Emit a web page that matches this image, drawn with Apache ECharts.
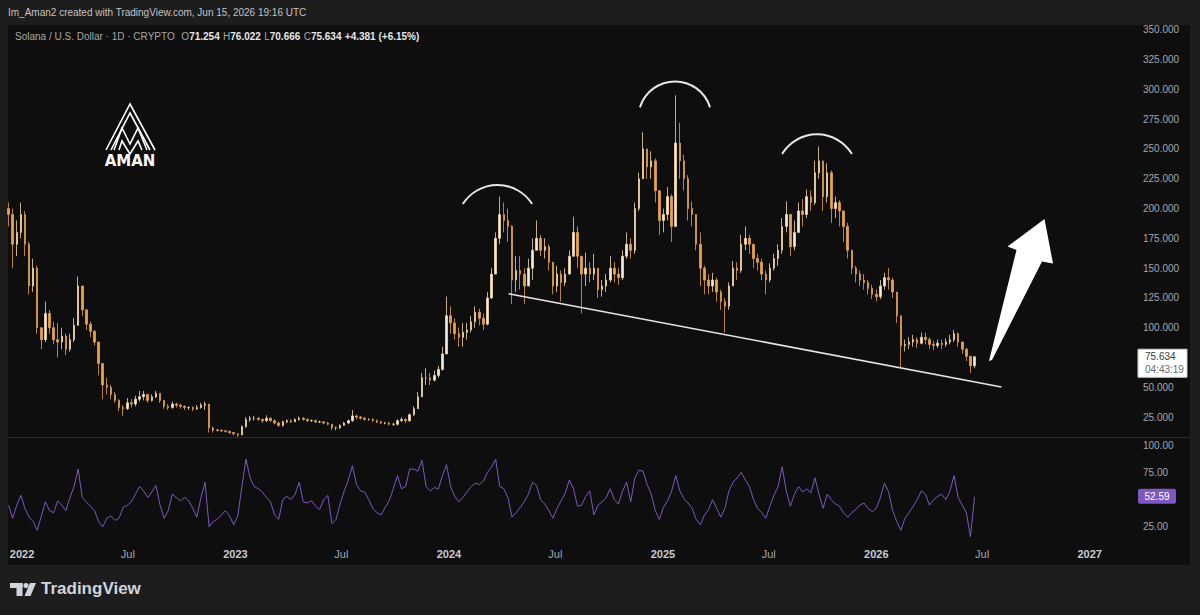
<!DOCTYPE html>
<html>
<head>
<meta charset="utf-8">
<title>Solana / U.S. Dollar · 1D · CRYPTO</title>
<script src="https://cdn.jsdelivr.net/npm/echarts@6/dist/echarts.min.js"></script>
<style>
  html, body { margin: 0; padding: 0; background: #1d1d1d; }
  #chart { width: 1200px; height: 615px; }
</style>
</head>
<body>
<div id="chart"></div>
<script>
const DAY = 24 * 3600 * 1000;

// weekly candles, week of Dec 6 2021 .. week of Jun 15 2026
const firstWeek = Date.UTC(2021, 11, 6);
const firstOpen = 200;
const closes = [
  195, 170, 180, 195, 170, 135, 150, 100, 90, 112,
  100, 90, 88, 93, 82, 90, 102, 135, 115, 103,
  97, 88, 70, 52, 50, 44, 39, 33, 32, 37,
  36, 40, 42, 44, 39, 42, 45, 39, 34, 33,
  36, 35, 34, 33, 33, 32, 33, 35, 36, 16,
  14, 14, 13.5, 13, 12, 11, 10, 17, 23, 24,
  24, 23, 22, 24, 22, 20, 18, 21, 22, 21,
  23, 24, 23, 22, 22, 21, 21, 20, 19, 16,
  16, 18, 20, 22, 26, 25, 24, 23, 23, 22,
  21, 20, 20, 19, 19, 22, 23, 22, 27, 32,
  42, 58, 58, 56, 60, 65, 78, 110, 104, 95,
  92, 96, 98, 105, 113, 108, 103, 125, 145, 175,
  195, 190, 185, 140, 148, 145, 135, 150, 165, 175,
  165, 168, 155, 135, 145, 138, 145, 160, 180, 160,
  145, 150, 145, 150, 132, 135, 140, 150, 145, 142,
  160, 170, 165, 200, 225, 250, 235, 240, 215, 190,
  195, 210, 185, 255, 240, 225, 200, 195, 170, 150,
  140, 135, 140, 130, 122, 118, 135, 150, 148, 170,
  175, 170, 158, 155, 145, 140, 150, 158, 165, 185,
  195, 168, 180, 198, 195, 210, 205, 230, 240, 210,
  230, 200, 205, 198, 185, 165, 150, 145, 140, 138,
  133, 128, 126, 135, 142, 140, 130, 110, 85, 86,
  88, 90, 87, 92, 90, 86, 85, 87, 86, 88,
  90, 95, 88, 82, 76, 68, 75.634
];
const highs = [
  205, 200, 190, 205, 198, 172, 158, 152, 100, 122,
  115, 105, 104, 100, 95, 95, 108, 143, 135, 115,
  105, 98, 88, 70, 58, 52, 46, 40, 35, 41,
  40, 43, 47, 47, 44, 44, 47, 45, 39, 36,
  38, 37, 36, 35, 34, 34, 35, 37, 38, 36,
  17, 15, 14.5, 14, 13.5, 12.5, 11, 18, 25, 26,
  26, 25, 24, 26.5, 25, 23, 21, 22, 23, 23,
  24, 25.5, 25, 24, 23, 23, 22, 21.5, 21, 19,
  17, 19, 21, 23, 31, 27, 26, 25, 24, 24,
  23, 22, 21, 21, 20, 23, 25, 24, 28, 34,
  46, 62, 66, 62, 64, 68, 84, 126, 118, 108,
  100, 104, 104, 110, 118, 116, 112, 130, 150, 180,
  210, 205, 200, 186, 160, 160, 150, 158, 175, 190,
  178, 175, 170, 155, 152, 148, 150, 165, 193, 185,
  160, 163, 155, 162, 150, 140, 145, 160, 155, 150,
  165, 180, 175, 205, 230, 264, 250, 248, 242, 215,
  200, 218, 212, 295, 272, 245, 228, 206, 195, 180,
  152, 145, 146, 142, 132, 125, 138, 156, 155, 178,
  185, 178, 170, 162, 158, 148, 154, 162, 170, 192,
  206, 195, 190, 205, 208, 216, 215, 240, 252, 240,
  238, 232, 210, 207, 192, 188, 165, 152, 148, 145,
  140, 136, 132, 140, 146, 150, 142, 130, 110, 90,
  92, 94, 92, 96, 96, 92, 89, 90, 90, 91,
  94, 98, 96, 88, 83, 76, 76.022
];
const lows = [
  185, 150, 160, 175, 160, 128, 130, 95, 82, 88,
  95, 86, 75, 82, 77, 80, 88, 105, 110, 98,
  92, 85, 60, 40, 44, 40, 37, 30, 26, 31,
  33, 34, 38, 39, 37, 38, 41, 37, 32, 31,
  32, 33, 32, 31, 31, 30, 31, 32, 31, 12,
  12, 13, 12.5, 12, 11, 9.5, 8.5, 10, 16, 21,
  22, 22, 20, 21, 21, 19, 17, 17, 20, 20,
  21, 22, 22, 21, 21, 20, 20, 19, 18, 14,
  14, 15, 18, 19, 21, 23, 23, 22, 22, 21,
  20, 19, 19, 18, 17.5, 18, 21, 20, 21, 26,
  32, 42, 52, 52, 55, 58, 64, 78, 95, 90,
  84, 84, 90, 96, 100, 102, 98, 102, 124, 145,
  170, 180, 172, 120, 130, 132, 120, 135, 140, 165,
  160, 158, 148, 128, 130, 122, 135, 145, 165, 150,
  112, 135, 138, 140, 125, 126, 130, 138, 138, 136,
  140, 158, 158, 162, 198, 225, 225, 225, 205, 178,
  180, 190, 172, 185, 225, 215, 190, 185, 165, 135,
  128, 128, 130, 122, 115, 96, 115, 135, 140, 146,
  165, 162, 150, 148, 140, 128, 138, 148, 152, 162,
  180, 160, 165, 180, 185, 192, 198, 203, 225, 198,
  205, 188, 192, 185, 172, 158, 145, 138, 135, 132,
  128, 124, 122, 124, 132, 132, 125, 104, 67, 80,
  82, 84, 83, 86, 86, 82, 81, 83, 82, 84,
  86, 88, 84, 78, 72, 62, 66
];
// RSI (14), one reading per week
const rsi = [
  45, 33, 45, 54, 42, 34, 30, 22, 35, 48,
  40, 38, 49, 45, 40, 52, 62, 78, 52, 48,
  44, 40, 30, 25, 33, 35, 31, 33, 43, 45,
  48, 55, 62, 58, 52, 57, 63, 45, 33, 40,
  55, 52, 49, 52, 49, 42, 34, 52, 66, 25,
  30, 32, 36, 40, 35, 27, 35, 62, 87, 70,
  62, 60, 57, 52, 48, 36, 32, 50, 53, 50,
  55, 66, 48, 47, 49, 44, 41, 50, 54, 28,
  32, 46, 58, 68, 81, 64, 58, 57, 50, 42,
  38, 36, 43, 49, 60, 72, 60, 62, 78, 78,
  76, 86, 62, 58, 61, 60, 72, 82, 62, 53,
  48, 52, 57, 62, 65, 64, 67, 75, 80, 87,
  62, 60, 52, 34, 38, 43, 48, 55, 66, 63,
  50, 46, 40, 33, 42, 49, 56, 68, 60, 44,
  45, 53, 58, 36, 45, 48, 52, 60, 50, 46,
  58, 66, 48, 70, 77, 76, 64, 55, 40, 32,
  43, 49, 58, 72, 58, 51, 47, 42, 32, 27,
  36, 41, 50, 42, 34, 42, 58, 66, 70, 75,
  68, 62, 50, 42, 38, 33, 44, 54, 62, 80,
  58, 44, 55, 62, 57, 60, 56, 70, 55, 42,
  55, 50, 46, 44, 38, 34, 38, 41, 45, 47,
  42, 39, 42, 52, 65, 57, 40, 30, 22, 33,
  38, 44, 50, 58, 55, 45, 50, 53, 55, 50,
  58, 72, 52, 45, 38, 16, 52.59
];

// neckline drawn on the chart
const trendLine = [[Date.UTC(2024, 3, 12), 128.5], [Date.UTC(2026, 7, 3), 50.3]];

const lastBar = { O: "71.254", H: "76.022", L: "70.666", C: "75.634", chg: "+4.381 (+6.15%)" };
const lastPrice = 75.634;
const countdown = "04:43:19";
const lastRsi = 52.59;

const xMin = Date.UTC(2021, 11, 8);
const xMax = Date.UTC(2027, 2, 16);

const candles = closes.map((c, i) => [
  firstWeek + (7 * i + 3) * DAY,
  i === 0 ? firstOpen : closes[i - 1],
  c, lows[i], highs[i]
]);
const rsiData = rsi.map((v, i) => [firstWeek + (7 * i + 3) * DAY, v]);

const textColor = "#a3a6af";
const fontFam = "'Liberation Sans', Arial, sans-serif";

const chart = echarts.init(document.getElementById("chart"), null, { renderer: "svg" });

function timeAxis(grid, labels) {
  return {
    type: "time",
    gridIndex: grid,
    min: xMin,
    max: xMax,
    splitNumber: 22,
    axisLine: { show: false },
    axisTick: { show: false },
    splitLine: { show: false },
    axisLabel: labels
      ? {
          show: true,
          color: textColor,
          fontSize: 11,
          fontFamily: fontFam,
          margin: 3,
          showMinLabel: false,
          showMaxLabel: false,
          hideOverlap: false,
          // only January (year) and July are labelled
          formatter: v => {
            const d = new Date(v);
            if (d.getUTCDate() !== 1) return "";
            if (d.getUTCMonth() === 0) return "{y|" + d.getUTCFullYear() + "}";
            if (d.getUTCMonth() === 6) return "Jul";
            return "";
          },
          rich: { y: { fontWeight: "bold", color: "#c9cbd1", fontSize: 11, fontFamily: fontFam } }
        }
      : { show: false }
  };
}

chart.setOption({
  backgroundColor: "#1d1d1d",
  useUTC: true,
  animation: false,
  grid: [
    { left: 8, right: 67, top: -1.92, height: 448.8 },
    { left: 8, right: 67, top: 417.7, height: 136.6 },
    { left: 8, right: 67, top: 437, height: 108 }
  ],
  xAxis: [timeAxis(0, false), timeAxis(1, false), timeAxis(2, true)],
  yAxis: [
    {
      type: "value",
      gridIndex: 0,
      position: "right",
      min: 0,
      max: 375,
      interval: 25,
      axisLine: { show: false },
      axisTick: { show: false },
      splitLine: { show: false },
      axisLabel: {
        color: textColor,
        fontSize: 10,
        fontFamily: fontFam,
        margin: 10,
        formatter: v => (v < 25 || v > 350 ? "" : v.toFixed(3))
      }
    },
    {
      type: "value",
      gridIndex: 1,
      position: "right",
      min: 0,
      max: 125,
      interval: 25,
      axisLine: { show: false },
      axisTick: { show: false },
      splitLine: { show: false },
      axisLabel: {
        color: textColor,
        fontSize: 10,
        fontFamily: fontFam,
        margin: 10,
        formatter: v => ([25, 75, 100].includes(v) ? v.toFixed(2) : "")
      }
    },
    { type: "value", gridIndex: 2, show: false }
  ],
  series: [
    {
      name: "SOLUSD",
      type: "candlestick",
      xAxisIndex: 0,
      yAxisIndex: 0,
      data: candles,
      encode: { x: 0, y: [1, 2, 3, 4] },
      barWidth: 2,
      itemStyle: {
        color: "#f1ece2",
        color0: "#e6a24c",
        borderColor: "#f4d7a6",
        borderColor0: "#e6a24c",
        borderWidth: 0.8
      },
      silent: true
    },
    {
      name: "Neckline",
      type: "line",
      xAxisIndex: 0,
      yAxisIndex: 0,
      data: trendLine,
      symbol: "none",
      lineStyle: { color: "#e6e6e6", width: 1.6 },
      z: 5,
      silent: true
    },
    {
      name: "RSI",
      type: "line",
      xAxisIndex: 1,
      yAxisIndex: 1,
      data: rsiData,
      symbol: "none",
      lineStyle: { color: "#7e57c2", width: 1 },
      silent: true
    }
  ]
});

// overlays: frame, titles, drawings, axis price tags, logos
const pY = chart.convertToPixel({ yAxisIndex: 0 }, lastPrice);
const rY = chart.convertToPixel({ yAxisIndex: 1 }, lastRsi);

function arc(cx, cy, r, a) {
  return {
    type: "arc",
    silent: true,
    z: 100,
    shape: { cx, cy, r, startAngle: -(Math.PI - a), endAngle: -a, clockwise: true },
    style: { stroke: "#e8e8e8", lineWidth: 2, fill: null, lineCap: "round" }
  };
}

const logoLines = [
  [[106, 150], [130, 104], [155, 150]],
  [[111, 150], [130, 113], [150, 150]],
  [[114, 150], [122, 128], [130, 144], [138, 128], [147, 150]],
  [[119, 150], [122, 141], [130, 154], [138, 141], [142, 150]]
];

chart.setOption({
  graphic: [
    {
      type: "rect", silent: true, z: -100,
      shape: { x: 8, y: 25, width: 1182, height: 540 },
      style: { fill: "#0e0e0e" }
    },
    {
      type: "line", silent: true, z: -50,
      shape: { x1: 8, y1: 437.5, x2: 1190, y2: 437.5 },
      style: { stroke: "#2c2c2c", lineWidth: 1 }
    },
    {
      type: "text", left: 8, top: 7, silent: true,
      style: {
        text: "Im_Aman2 created with TradingView.com, Jun 15, 2026 19:16 UTC",
        fill: "#c3c3c3", font: "10px " + fontFam
      }
    },
    {
      type: "text", left: 15, top: 30, silent: true,
      style: {
        text: "{g|Solana / U.S. Dollar · 1D · CRYPTO}  {g|O}{w|" + lastBar.O + "} {g|H}{w|" + lastBar.H +
          "} {g|L}{w|" + lastBar.L + "} {g|C}{w|" + lastBar.C + "} {w|" + lastBar.chg + "}",
        rich: {
          g: { fill: "#a7a7a7", font: "10px " + fontFam },
          w: { fill: "#e6e6e6", font: "bold 10px " + fontFam }
        }
      }
    },
    arc(497.5, 226.1, 41.1, 0.588),
    arc(675, 118, 36.6, 0.315),
    arc(817, 175.1, 40.8, 0.564),
    {
      type: "polygon", silent: true, z: 100,
      shape: { points: [[989, 361], [1016.5, 250], [1007.5, 246.5], [1044.5, 219], [1053, 263.5], [1042, 261.5], [992, 360]] },
      style: { fill: "#ffffff" }
    },
    ...logoLines.map(pts => ({
      type: "polyline", silent: true, z: 100,
      shape: { points: pts },
      style: { stroke: "#ffffff", lineWidth: 1.6, fill: null }
    })),
    {
      type: "text", x: 130, y: 161, silent: true, z: 100,
      style: { text: "AMAN", fill: "#ffffff", font: "bold 15px 'DejaVu Sans', sans-serif", align: "center", verticalAlign: "middle" }
    },
    {
      type: "rect", silent: true, z: 100,
      shape: { x: 1138, y: pY - 7.5, width: 49, height: 28 },
      style: { fill: "#ffffff", stroke: "#d0d0d0", lineWidth: 1 }
    },
    {
      type: "text", x: 1145, y: pY, silent: true, z: 101,
      style: { text: lastPrice.toFixed(3), fill: "#3a3a3a", font: "10px " + fontFam, verticalAlign: "middle" }
    },
    {
      type: "text", x: 1145, y: pY + 13, silent: true, z: 101,
      style: { text: countdown, fill: "#6a6a6a", font: "10px " + fontFam, verticalAlign: "middle" }
    },
    {
      type: "rect", silent: true, z: 100,
      shape: { x: 1138, y: rY - 8, width: 38, height: 15, r: 2 },
      style: { fill: "#7e57c2" }
    },
    {
      type: "text", x: 1157, y: rY - 0.5, silent: true, z: 101,
      style: { text: lastRsi.toFixed(2), fill: "#ffffff", font: "10px " + fontFam, align: "center", verticalAlign: "middle" }
    },
    // TradingView mark
    { type: "rect", silent: true, shape: { x: 10, y: 583, width: 12.5, height: 5 }, style: { fill: "#d1d4dc" } },
    { type: "rect", silent: true, shape: { x: 16.5, y: 583, width: 6, height: 13 }, style: { fill: "#d1d4dc" } },
    { type: "circle", silent: true, shape: { cx: 26, cy: 585.6, r: 2.6 }, style: { fill: "#d1d4dc" } },
    { type: "polygon", silent: true, shape: { points: [[30, 583], [36, 583], [30.5, 596], [24.5, 596]] }, style: { fill: "#d1d4dc" } },
    {
      type: "text", left: 41, top: 580, silent: true,
      style: { text: "TradingView", fill: "#d1d4dc", font: "bold 17px " + fontFam }
    }
  ]
});
</script>
</body>
</html>
